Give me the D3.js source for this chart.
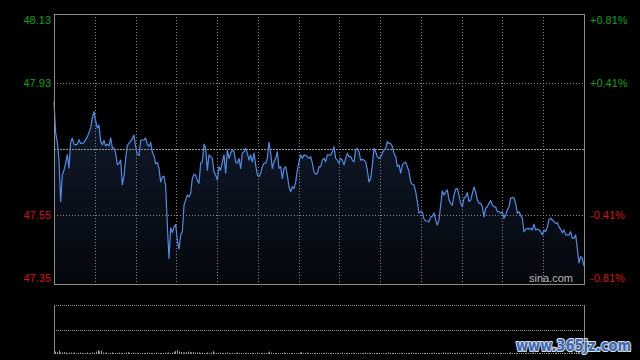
<!DOCTYPE html>
<html><head><meta charset="utf-8">
<script src="https://cdn.jsdelivr.net/npm/d3@7"></script>
<style>html,body{margin:0;padding:0;background:#000;}svg{display:block;}</style>
</head><body>
<svg id="c" width="640" height="360"></svg>
<script>
// ---- data ----
const prevClose = 47.74;
const priceTicks = [48.13, 47.93, 47.55, 47.35];
const pctTicks = ["+0.81%", "+0.41%", "-0.41%", "-0.81%"];
const sessionIntervals = 13;
const prices = [
47.877,47.786,47.761,47.708,47.588,47.665,47.679,47.700,47.723,47.685,
47.760,47.771,47.754,47.752,47.754,47.767,47.756,47.756,47.759,47.767,
47.775,47.788,47.801,47.830,47.848,47.821,47.801,47.809,47.762,47.752,
47.765,47.749,47.754,47.749,47.772,47.743,47.743,47.728,47.695,47.698,
47.708,47.636,47.662,47.713,47.750,47.757,47.762,47.770,47.780,47.747,
47.726,47.721,47.765,47.766,47.766,47.772,47.753,47.748,47.759,47.731,
47.720,47.697,47.701,47.684,47.645,47.659,47.661,47.633,47.520,47.424,
47.512,47.499,47.515,47.522,47.477,47.451,47.492,47.501,47.578,47.593,
47.607,47.602,47.612,47.655,47.667,47.665,47.650,47.641,47.699,47.703,
47.754,47.742,47.679,47.723,47.718,47.713,47.674,47.665,47.650,47.689,
47.679,47.703,47.723,47.670,47.737,47.713,47.728,47.737,47.732,47.703,
47.699,47.713,47.684,47.728,47.732,47.742,47.728,47.708,47.723,47.703,
47.728,47.694,47.665,47.660,47.670,47.689,47.699,47.699,47.713,47.759,
47.728,47.684,47.703,47.713,47.732,47.684,47.689,47.655,47.684,47.689,
47.665,47.631,47.617,47.631,47.626,47.645,47.679,47.703,47.723,47.713,
47.723,47.721,47.718,47.713,47.718,47.699,47.674,47.667,47.670,47.689,
47.689,47.708,47.713,47.703,47.723,47.723,47.723,47.732,47.747,47.713,
47.708,47.699,47.713,47.708,47.694,47.713,47.728,47.718,47.718,47.708,
47.703,47.737,47.742,47.732,47.708,47.710,47.708,47.703,47.679,47.645,
47.655,47.694,47.742,47.732,47.718,47.713,47.718,47.728,47.737,47.742,
47.761,47.756,47.756,47.747,47.728,47.718,47.689,47.694,47.670,47.694,
47.699,47.702,47.689,47.674,47.645,47.638,47.636,47.617,47.588,47.555,
47.559,47.558,47.538,47.532,47.532,47.530,47.544,47.546,47.555,47.535,
47.520,47.535,47.578,47.619,47.607,47.616,47.622,47.593,47.583,47.578,
47.607,47.624,47.626,47.607,47.583,47.573,47.598,47.602,47.614,47.588,
47.593,47.612,47.630,47.616,47.593,47.583,47.583,47.573,47.544,47.569,
47.573,47.583,47.591,47.578,47.573,47.573,47.559,47.559,47.554,47.559,
47.540,47.549,47.564,47.573,47.598,47.600,47.598,47.583,47.554,47.559,
47.549,47.540,47.501,47.508,47.511,47.508,47.511,47.506,47.523,47.506,
47.509,47.506,47.501,47.492,47.506,47.501,47.515,47.537,47.540,47.535,
47.530,47.525,47.527,47.515,47.508,47.498,47.506,47.492,47.492,47.492,
47.501,47.482,47.482,47.492,47.453,47.411,47.429,47.424,47.402
];
const volumes = [
5,4,7,3,3,4,3,2,3,3, 2,3,2,2,3,2,2,2,3,2, 2,3,2,5,8,6,7,3,2,3,
2,2,3,2,2,2,3,2,2,2, 3,4,2,2,3,2,2,2,2,2, 2,2,3,2,2,2,2,3,2,2,
2,2,3,2,3,2,3,4,6,8, 5,4,3,3,4,5,4,3,4,3, 3,3,2,3,2,2,3,2,3,6,
3,2,2,3,2,2,2,3,2,2, 2,2,2,3,2,2,2,2,2,2, 2,2,2,2,3,2,2,2,2,2,
3,5,3,2,2,2,2,2,2,3, 2,2,2,2,2,2,2,2,3,4, 2,2,3,2,2,2,2,2,2,2,
2,2,2,3,2,2,2,2,2,2, 2,2,3,2,2,2,2,2,2,2, 2,2,2,2,2,3,2,2,2,2,
2,2,2,2,2,2,2,2,3,2, 2,2,2,2,2,2,2,2,2,2, 2,3,2,2,2,2,2,2,2,2,
2,2,2,2,3,2,2,2,2,3, 3,2,2,3,2,2,2,3,2,2, 2,2,3,2,2,2,2,2,2,2,
2,2,2,2,2,3,2,2,2,2, 2,2,2,2,2,2,2,3,2,2, 2,2,2,2,2,2,2,2,2,2,
3,2,2,2,2,2,2,2,2,2, 2,2,2,3,2,2,2,2,2,2, 3,3,2,3,3,4,3,3,4
];

(function () {
const svg = d3.select("#c");
const W = 640, H = 360;
svg.append("rect").attr("width", W).attr("height", H).attr("fill", "#000");

const pL = 54, pR = 584, pT = 14, pB = 284;
const vTop = 305, vMid = 330, vBottom = 354;

const x = d3.scaleLinear().domain([0, prices.length - 1]).range([pL, pR]);
const y = d3.scaleLinear().domain([priceTicks[3], priceTicks[0]]).range([pB, pT]);
const xv = d3.scaleLinear().domain([0, volumes.length - 1]).range([pL + 1, pR - 1]);
const yv = d3.scaleLinear().domain([0, 100]).range([vBottom, vTop]);

const defs = svg.append("defs");
const grad = defs.append("linearGradient").attr("id", "ag")
  .attr("gradientUnits", "userSpaceOnUse")
  .attr("x1", 0).attr("x2", 0).attr("y1", y(d3.max(prices))).attr("y2", pB);
grad.append("stop").attr("offset", 0).attr("stop-color", "#111a2d");
grad.append("stop").attr("offset", 1).attr("stop-color", "#05070b");

const area = d3.area().x((d, i) => x(i)).y0(pB).y1(d => y(d));
svg.append("path").datum(prices).attr("d", area).attr("fill", "url(#ag)");

const vg = svg.append("g");
d3.range(1, sessionIntervals).forEach(k => {
  const xx = Math.round(pL + (pR - pL) * k / sessionIntervals) + 0.5;
  vg.append("line").attr("x1", xx).attr("x2", xx).attr("y1", pT).attr("y2", pB)
    .attr("stroke", "#8a8a8a").attr("stroke-dasharray", "1,2");
});

[priceTicks[1], priceTicks[2]].forEach(p => {
  const yy = Math.round(y(p)) + 0.5;
  svg.append("line").attr("x1", pL).attr("x2", pR).attr("y1", yy).attr("y2", yy)
    .attr("stroke", "#8a8a8a").attr("stroke-dasharray", "1,2");
});
{
  const yy = Math.round(y(prevClose)) + 0.5;
  svg.append("line").attr("x1", pL).attr("x2", pR).attr("y1", yy).attr("y2", yy)
    .attr("stroke", "#9a9a9a").attr("stroke-dasharray", "2,1");
}

const line = d3.line().x((d, i) => x(i)).y(d => y(d));
svg.append("path").datum(prices).attr("d", line)
  .attr("fill", "none").attr("stroke", "#4f8ee6").attr("stroke-width", 1.2)
  .attr("stroke-linejoin", "round");

svg.append("rect").attr("x", pL + 0.5).attr("y", pT + 0.5)
  .attr("width", pR - pL).attr("height", pB - pT)
  .attr("fill", "none").attr("stroke", "#8c8c8c").attr("stroke-width", 1);

const lab = svg.append("g").attr("font-family", "Liberation Sans, Arial, sans-serif").attr("font-size", 11);
const labY = [y(priceTicks[0]) + 6, y(priceTicks[1]), y(priceTicks[2]), y(priceTicks[3]) - 6];
priceTicks.forEach((p, i) => {
  const col = p > prevClose ? "#12a012" : "#d81010";
  lab.append("text").attr("x", 51).attr("y", labY[i]).attr("dy", "0.35em")
    .attr("text-anchor", "end").attr("fill", col).text(p.toFixed(2));
  lab.append("text").attr("x", 590).attr("y", labY[i]).attr("dy", "0.35em")
    .attr("text-anchor", "start").attr("fill", col).text(pctTicks[i]);
});

svg.append("text").attr("x", 573).attr("y", 282).attr("text-anchor", "end")
  .attr("font-family", "Liberation Sans, Arial, sans-serif").attr("font-size", 11)
  .attr("fill", "#b8b8b8").text("sina.com");

[vTop, vMid].forEach(v => {
  svg.append("line").attr("x1", pL).attr("x2", pR).attr("y1", v + 0.5).attr("y2", v + 0.5)
    .attr("stroke", "#8a8a8a").attr("stroke-dasharray", "1,1");
});
svg.append("line").attr("x1", pL + 0.5).attr("x2", pL + 0.5).attr("y1", vTop).attr("y2", vBottom)
  .attr("stroke", "#8c8c8c");
svg.append("line").attr("x1", pR + 0.5).attr("x2", pR + 0.5).attr("y1", vTop).attr("y2", vBottom)
  .attr("stroke", "#8c8c8c");
svg.append("g").selectAll("rect").data(volumes).join("rect")
  .attr("x", (d, i) => Math.round(xv(i)))
  .attr("width", 1)
  .attr("y", d => yv(d))
  .attr("height", d => vBottom - yv(d))
  .attr("fill", "#9a9a9a");

svg.append("text").attr("x", 516).attr("y", 351)
  .attr("font-family", "DejaVu Sans, sans-serif").attr("font-weight", "bold")
  .attr("font-size", 15).attr("textLength", 115).attr("lengthAdjust", "spacingAndGlyphs")
  .attr("fill", "#3b68b0").attr("stroke", "#d8e0ee").attr("stroke-width", 2.2)
  .attr("paint-order", "stroke").attr("stroke-linejoin", "round")
  .text("www.365jz.com");
})();
</script>
</body></html>
